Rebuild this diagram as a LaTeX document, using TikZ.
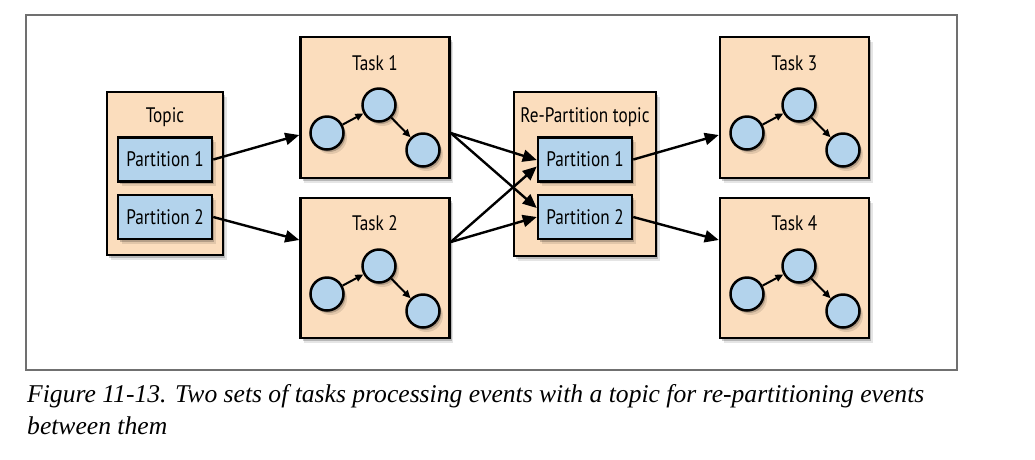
\documentclass[tikz,border=0pt]{standalone}
\usepackage{fontspec}
\setmainfont{Liberation Serif}
\newfontfamily\lblfont[FakeStretch=0.82]{PT Sans}
\usetikzlibrary{arrows.meta,shadows,calc}
\definecolor{peach}{HTML}{FBDDBD}
\definecolor{lblue}{HTML}{B3D3EC}
\definecolor{framegray}{HTML}{707070}
\newcommand\taskdots[3]{%
  \node[dot] (#1a) at ({#2+27},{#3+96}) {};
  \node[dot] (#1b) at ({#2+79},{#3+68}) {};
  \node[dot] (#1c) at ({#2+123},{#3+113}) {};
  \draw[small] (#1a) -- (#1b);
  \draw[small] (#1b) -- (#1c);
}
\begin{document}
\begin{tikzpicture}[x=1pt,y=-1pt,
  shadowed/.style={drop shadow={shadow xshift=3.5pt,shadow yshift=-4.5pt,fill=black,opacity=0.10},
                   drop shadow={shadow xshift=2pt,shadow yshift=-2.5pt,fill=black,opacity=0.20}},
  box/.style={draw=black,line width=2.5pt,fill=peach,inner sep=0pt,shadowed},
  lbl/.style={font=\lblfont\fontsize{21}{21}\selectfont,inner sep=0pt},
  part/.style={draw=black,line width=2.5pt,fill=lblue,minimum width=94pt,minimum height=44pt,inner sep=0pt,
    font=\lblfont\fontsize{21}{21}\selectfont,shadowed},
  dot/.style={circle,draw=black,line width=2.5pt,fill=lblue,minimum size=33pt,inner sep=0pt,shadowed},
  big/.style={line width=2.4pt,-{Triangle[length=14pt,width=12pt]}},
  small/.style={line width=2pt,-{Triangle[length=8pt,width=7pt]}},
  captext/.style={font=\itshape\fontsize{25.6}{25.6}\selectfont,inner sep=0pt,anchor=base west}]
\useasboundingbox (0,0) rectangle (1035,459);
\fill[white] (0,0) rectangle (1035,459);
\draw[framegray,line width=1.3pt] (26,15) rectangle (957,370);

% Topic
\node[box,minimum width=116pt,minimum height=163pt] (topic) at (165,173.5) {};
\node[lbl] (topiclbl) at (165,117) {Topic};
\node[part] (tp1) at (165,159.5) {Partition 1};
\node[part] (tp2) at (165,217) {Partition 2};

% Tasks 1,2
\node[box,minimum width=149pt,minimum height=141pt] (t1) at (375,107.5) {};
\node[lbl] (t1lbl) at (375,63) {Task 1};
\taskdots{t1}{300}{37}
\node[box,minimum width=149pt,minimum height=140pt] (t2) at (375,268) {};
\node[lbl] (t2lbl) at (375,223) {Task 2};
\taskdots{t2}{300}{198}

% Re-partition topic
\node[box,minimum width=142pt,minimum height=164pt] (rp) at (585,174) {};
\node[lbl] (rplbl) at (585,117) {Re-Partition topic};
\node[part] (rp1) at (585,159.5) {Partition 1};
\node[part] (rp2) at (585,217) {Partition 2};

% Tasks 3,4
\node[box,minimum width=149pt,minimum height=141pt] (t3) at (794.5,107.5) {};
\node[lbl] (t3lbl) at (794.5,63) {Task 3};
\taskdots{t3}{720}{37}
\node[box,minimum width=149pt,minimum height=140pt] (t4) at (794.5,268) {};
\node[lbl] (t4lbl) at (794.5,223) {Task 4};
\taskdots{t4}{720}{198}

% connectors
\draw[big] (tp1.east) -- ([yshift=-27.5pt]t1.west);
\draw[big] (tp2.east) -- ([yshift=28pt]t2.west);
\draw[big] ([yshift=-25.5pt]t1.east) -- ([yshift=-0.5pt]rp1.west);
\draw[big] ([yshift=-25.5pt]t1.east) -- ([yshift=9pt]rp2.west);
\draw[big] ([yshift=26pt]t2.east) -- ([yshift=-7pt]rp1.west);
\draw[big] ([yshift=26pt]t2.east) -- (rp2.west);
\draw[big] (rp1.east) -- ([yshift=-27.5pt]t3.west);
\draw[big] (rp2.east) -- ([yshift=28pt]t4.west);

% caption
\node[captext] (cap1) at (27,402) {Figure 11-13. Two sets of tasks processing events with a topic for re-partitioning events};
\node[captext] (cap2) at (27,434) {between them};
\end{tikzpicture}
\end{document}
